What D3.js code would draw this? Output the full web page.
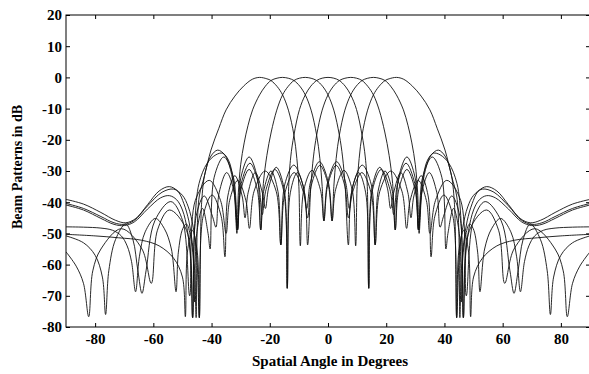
<!DOCTYPE html>
<html>
<head>
<meta charset="utf-8">
<script src="https://cdn.jsdelivr.net/npm/d3@7"></script>
<style>
  body { margin: 0; background: #fff; }
  text { font-family: "Liberation Serif", "Times New Roman", serif; font-weight: bold; fill: #000; }
</style>
</head>
<body>
<div id="chart"></div>
<script>
// tick labels
const xTicks = [-80, -60, -40, -20, 0, 20, 40, 60, 80];
const yTicks = [20, 10, 0, -10, -20, -30, -40, -50, -60, -70, -80];

// beam patterns, [angle in degrees, level in dB]
const beamM3 = [[-90,-39.1],[-84,-40.6],[-78,-43.3],[-73,-45.8],[-69.5,-46.6],[-66,-45.2],[-62,-40.8],[-58,-36.4],[-54.5,-35.0],[-51.5,-36.6],[-49.5,-40.5],[-47.8,-46],[-46.6,-53],[-45.8,-62],[-45.3,-77],
  [-44.9,-48],[-44.2,-38],[-42.5,-31.8],[-40.2,-23.3],[-37.5,-16.3],[-35,-10.4],[-32,-6.0],[-29,-2.8],[-26,-0.6],[-23.5,0],[-21,-0.45],[-19.6,-1.0],[-17.5,-2.9],[-15.6,-5.6],[-13.6,-10.5],[-11.7,-18.5],[-10.7,-26],[-10,-35],[-9.5,-54],
  [-8.3,-36],[-5.5,-29.8],[-2.6,-36],[-1.4,-46],[-0.1,-34.5],[2.8,-28.2],[5.7,-34.5],[7.0,-45],
  [8.4,-37],[11.6,-30.5],[14.8,-37],[16.2,-53.7],[17.2,-36.5],[19.6,-30],[22.1,-36.5],[23.1,-48.9],
  [24.3,-36],[27.1,-29.5],[29.9,-36],[31.1,-48.9],[32.2,-37],[34.8,-30.5],[37.4,-37],[38.5,-48],
  [39.7,-44.5],[42.5,-38],[45.3,-44.5],[46.5,-77],[48.6,-49],[54.5,-42.5],[58.6,-49],[60.7,-66],
  [63.9,-55],[71,-48.5],[78,-55],[80.8,-62],[82.2,-76.7],[84,-66],[86.5,-60.5],[90,-55.9]];

const beamM2 = [[-90,-40.4],[-84,-42],[-78,-44.6],[-73.5,-46.6],[-70,-47.1],[-66.5,-45.8],[-62,-41.2],[-57,-36.8],[-53,-35.8],[-50,-37.8],[-48,-41.5],[-46.3,-48],[-45.1,-57],[-44.2,-77],
  [-43.4,-40],[-42.2,-30.5],[-40.2,-25.2],[-37.9,-23.3],[-35.5,-24.8],[-33.5,-29.5],[-32.2,-37],[-31.3,-50],
  [-30.8,-37],[-30,-28],[-28.8,-21],[-27.5,-15.5],[-25.9,-10.4],[-23.5,-5.6],[-21.5,-2.8],[-19.6,-1.0],[-17.5,-0.25],[-15.6,0],[-13.5,-0.3],[-11.7,-1.0],[-9.7,-2.8],[-7.8,-5.6],[-5.8,-10.5],[-3.9,-18.5],[-2.8,-26],[-2.0,-35],[-1.4,-46],
  [-0.1,-33.5],[2.95,-27],[6.0,-33.5],[7.3,-42],[8.6,-34.5],[11.75,-28.1],[14.9,-34.5],[16.2,-53.7],
  [17.8,-36.5],[21.6,-30],[25.4,-36.5],[27,-48.4],[28.2,-39.5],[31,-33],[33.8,-39.5],[35,-50],
  [36.9,-39.5],[40.8,-33],[45.6,-39.5],[47.5,-70],[49.9,-46],[54,-39.8],[59.5,-46],[62.5,-62],[63.9,-69.2],[65.3,-62],
  [67,-52],[69.5,-47],[73,-52],[75.3,-62],[76.4,-76],[77.5,-64],[80,-57],[84,-53],[90,-50.8]];

const beamM1 = [[-90,-40.9],[-84,-42.5],[-78,-45.2],[-73.5,-47.1],[-70,-47.5],[-66.5,-46.3],[-62,-42.2],[-57.5,-38.6],[-54.5,-37.9],[-52,-39.2],[-50,-42.5],[-48.3,-49],[-47.2,-58],[-46.5,-77],
  [-45.7,-46],[-44.3,-34],[-41.5,-27.5],[-38.5,-24.8],[-36.2,-24.3],[-34.2,-26.5],[-32.5,-33],[-31.1,-48.9],
  [-29.9,-32],[-27.1,-25.5],[-24.3,-32],[-23.1,-48.9],
  [-22.2,-34],[-21,-25],[-19.5,-17.5],[-17.6,-10.5],[-15.6,-5.6],[-13.7,-2.9],[-11.7,-1.0],[-9.8,-0.25],[-7.8,0],[-5.8,-0.28],[-3.9,-1.0],[-1.9,-2.8],[0,-5.6],[2,-10.5],[3.9,-18.5],[5,-25.5],[5.9,-35],[7.0,-53.7],
  [8.05,-37],[10.5,-30.5],[12.95,-37],[14,-67.6],[15.1,-35.5],[17.8,-28.8],[20.4,-35.5],[21.5,-42],
  [22.55,-37],[25,-30.5],[27.45,-37],[28.5,-45],[29.5,-38],[32,-31.5],[34.4,-38],[35.4,-57.5],
  [36.7,-44.5],[39.8,-37.7],[42.9,-44.5],[44.2,-77],[44.9,-56],[46.6,-49],[48.3,-56],[49,-76.7],
  [50,-64],[53,-58],[58,-54],[64,-52.2],[72,-51.4],[80,-50.8],[90,-50.3]];

const beam0 = [[-90,-47.9],[-84,-48],[-78,-48.3],[-74,-49],[-71,-50.8],[-69,-54],[-67.5,-59],[-66.1,-68.7],[-64.8,-57.5],[-62.8,-49.5],[-59.3,-45.2],[-56.2,-48.5],[-53.8,-55],[-52.2,-68.7],[-51.4,-56],[-49.9,-48.5],[-48.6,-47],[-47.2,-51],[-46.3,-58],[-45.8,-72],
  [-45.1,-50],[-43.1,-42],[-41.2,-50],[-40.5,-55],[-39.1,-32],[-35.8,-25.5],[-32.5,-32],[-31.1,-48.9],
  [-29.8,-34],[-26.8,-27.5],[-23.9,-34],[-22.6,-44],[-21.3,-36],[-18.3,-29.5],[-15.3,-36],[-14,-67.6],
  [-13.5,-35],[-12.8,-25.5],[-11.7,-18.5],[-9.8,-10.3],[-7.8,-5.6],[-5.9,-2.8],[-3.9,-1.0],[-2,-0.25],[0,0],
  [2,-0.25],[3.9,-1.0],[5.9,-2.8],[7.8,-5.6],[9.8,-10.3],[11.7,-18.5],[12.8,-25.5],[13.5,-35],[14,-67.6],
  [15.3,-36],[18.3,-29.5],[21.3,-36],[22.6,-44],[23.9,-34],[26.8,-27.5],[29.8,-34],[31.1,-48.9],
  [32.5,-32],[35.8,-25.5],[39.1,-32],[40.5,-55],[41.2,-50],[43.1,-42],[45.1,-50],[45.8,-72],
  [46.3,-58],[47.2,-51],[48.6,-47],[49.9,-48.5],[51.4,-56],[52.2,-68.7],[53.8,-55],[56.2,-48.5],[59.3,-45.2],[62.8,-49.5],[64.8,-57.5],[66.1,-68.7],[67.5,-59],[69,-54],[71,-50.8],[74,-49],[78,-48.3],[84,-48],[90,-47.9]];

const beamP1 = [[-90,-50.3],[-80,-50.8],[-72,-51.4],[-64,-52.2],[-58,-54],[-53,-58],[-50,-64],[-49,-76.7],
  [-48.3,-56],[-46.6,-49],[-44.9,-56],[-44.2,-77],[-42.9,-44.5],[-39.8,-37.7],[-36.7,-44.5],[-35.4,-57.5],
  [-34.4,-38],[-32,-31.5],[-29.5,-38],[-28.5,-45],[-27.45,-37],[-25,-30.5],[-22.55,-37],[-21.5,-42],
  [-20.4,-35.5],[-17.8,-28.8],[-15.1,-35.5],[-14,-67.6],[-12.95,-37],[-10.5,-30.5],[-8.05,-37],[-7.0,-53.7],
  [-5.9,-35],[-5,-25.5],[-3.9,-18.5],[-2,-10.5],[0,-5.6],[1.9,-2.8],[3.9,-1.0],[5.8,-0.28],[7.8,0],[9.8,-0.25],[11.7,-1.0],[13.7,-2.9],[15.6,-5.6],[17.6,-10.5],[19.5,-17.5],[21,-25],[22.2,-34],
  [23.1,-48.9],[24.3,-32],[27.1,-25.5],[29.9,-32],[31.1,-48.9],[32.5,-33],[34.2,-26.5],[36.2,-24.3],[38.5,-24.8],[41.5,-27.5],[44.3,-34],[45.7,-46],
  [46.5,-77],[47.2,-58],[48.3,-49],[50,-42.5],[52,-39.2],[54.5,-37.9],[57.5,-38.6],[62,-42.2],[66.5,-46.3],[70,-47.5],[73.5,-47.1],[78,-45.2],[84,-42.5],[90,-40.9]];

const beamP2 = [[-90,-50.8],[-84,-53],[-80,-57],[-77.5,-64],[-76.4,-76],[-75.3,-62],[-73,-52],[-69.5,-47],[-67,-52],
  [-65.3,-62],[-63.9,-69.2],[-62.5,-62],[-59.5,-46],[-54,-39.8],[-49.9,-46],[-47.5,-70],[-45.6,-39.5],[-40.8,-33],[-36.9,-39.5],
  [-35,-50],[-33.8,-39.5],[-31,-33],[-28.2,-39.5],[-27,-48.4],[-25.4,-36.5],[-21.6,-30],[-17.8,-36.5],
  [-16.2,-53.7],[-14.9,-34.5],[-11.75,-28.1],[-8.6,-34.5],[-7.3,-42],[-6.0,-33.5],[-2.95,-27],[0.1,-33.5],
  [1.4,-46],[2.0,-35],[2.8,-26],[3.9,-18.5],[5.8,-10.5],[7.8,-5.6],[9.7,-2.8],[11.7,-1.0],[13.5,-0.3],[15.6,0],[17.5,-0.25],[19.6,-1.0],[21.5,-2.8],[23.5,-5.6],[25.9,-10.4],[27.5,-15.5],[28.8,-21],[30,-28],[30.8,-37],
  [31.3,-50],[32.2,-37],[33.5,-29.5],[35.5,-24.8],[37.9,-23.3],[40.2,-25.2],[42.2,-30.5],[43.4,-40],
  [44.2,-77],[45.1,-57],[46.3,-48],[48,-41.5],[50,-37.8],[53,-35.8],[57,-36.8],[62,-41.2],[66.5,-45.8],[70,-47.1],[73.5,-46.6],[78,-44.6],[84,-42],[90,-40.4]];

const beamP3 = [[-90,-55.9],[-86.5,-60.5],[-84,-66],[-82.2,-76.7],[-80.8,-62],[-78,-55],[-71,-48.5],[-63.9,-55],
  [-60.7,-66],[-58.6,-49],[-54.5,-42.5],[-48.6,-49],[-46.5,-77],[-45.3,-44.5],[-42.5,-38],[-39.7,-44.5],
  [-38.5,-48],[-37.4,-37],[-34.8,-30.5],[-32.2,-37],[-31.1,-48.9],[-29.9,-36],[-27.1,-29.5],[-24.3,-36],
  [-23.1,-48.9],[-22.1,-36.5],[-19.6,-30],[-17.2,-36.5],[-16.2,-53.7],[-14.8,-37],[-11.6,-30.5],[-8.4,-37],
  [-7.0,-45],[-5.7,-34.5],[-2.8,-28.2],[0.1,-34.5],[1.4,-46],[2.6,-36],[5.5,-29.8],[8.3,-36],
  [9.5,-54],[10,-35],[10.7,-26],[11.7,-18.5],[13.6,-10.5],[15.6,-5.6],[17.5,-2.9],[19.6,-1.0],[21,-0.45],[23.5,0],[26,-0.6],[29,-2.8],[32,-6.0],[35,-10.4],[37.5,-16.3],[40.2,-23.3],[42.5,-31.8],[44.2,-38],[44.9,-48],
  [45.3,-77],[45.8,-62],[46.6,-53],[47.8,-46],[49.5,-40.5],[51.5,-36.6],[54.5,-35.0],[58,-36.4],[62,-40.8],[66,-45.2],[69.5,-46.6],[73,-45.8],[78,-43.3],[84,-40.6],[90,-39.1]];

const beams = [beamM3, beamM2, beamM1, beam0, beamP1, beamP2, beamP3];

const width = 589, height = 374;
const margin = { top: 15, right: -1, bottom: 47, left: 66 };
const plotW = width - margin.left - margin.right;
const plotH = height - margin.top - margin.bottom;

const svg = d3.select('#chart')
  .append('svg')
  .attr('width', width)
  .attr('height', height)
  .style('background', '#fff');

const x = d3.scaleLinear()
  .domain([-90, 90])
  .range([margin.left, margin.left + plotW]);

const y = d3.scaleLinear()
  .domain([-80, 20])
  .range([margin.top + plotH, margin.top]);

svg.append('clipPath')
  .attr('id', 'plot-clip')
  .append('rect')
  .attr('x', margin.left)
  .attr('y', margin.top)
  .attr('width', plotW)
  .attr('height', plotH);

const line = d3.line()
  .x(d => x(d[0]))
  .y(d => y(d[1]))
  .curve(d3.curveCatmullRom.alpha(0.5));

svg.append('g')
  .attr('clip-path', 'url(#plot-clip)')
  .selectAll('path')
  .data(beams)
  .enter().append('path')
  .attr('d', line)
  .attr('fill', 'none')
  .attr('stroke', '#111')
  .attr('stroke-width', 0.9);

// axes, ticks pointing inward on all four sides
const fmt = d => String(d);

svg.append('g')
  .attr('class', 'x-axis')
  .attr('transform', 'translate(0,' + (margin.top + plotH) + ')')
  .call(d3.axisBottom(x).tickValues(xTicks).tickSizeInner(-4).tickSizeOuter(0).tickPadding(6).tickFormat(fmt));

svg.append('g')
  .attr('transform', 'translate(0,' + margin.top + ')')
  .call(d3.axisTop(x).tickValues(xTicks).tickSizeInner(-4).tickSizeOuter(0).tickFormat(''));

svg.append('g')
  .attr('class', 'y-axis')
  .attr('transform', 'translate(' + margin.left + ',0)')
  .call(d3.axisLeft(y).tickValues(yTicks).tickSizeInner(-4).tickSizeOuter(0).tickPadding(4).tickFormat(fmt));

svg.append('g')
  .attr('transform', 'translate(' + (margin.left + plotW) + ',0)')
  .call(d3.axisRight(y).tickValues(yTicks).tickSizeInner(-4).tickSizeOuter(0).tickFormat(''));

svg.selectAll('.domain').remove();
svg.selectAll('.tick line').attr('stroke', '#000');
svg.selectAll('.tick text').style('font-size', '15px');

svg.append('rect')
  .attr('x', margin.left)
  .attr('y', margin.top)
  .attr('width', plotW)
  .attr('height', plotH)
  .attr('fill', 'none')
  .attr('stroke', '#000')
  .attr('stroke-width', 1);

svg.append('text')
  .attr('x', 330)
  .attr('y', 366)
  .style('text-anchor', 'middle')
  .style('font-size', '15px')
  .text('Spatial Angle in Degrees');

svg.append('text')
  .attr('transform', 'rotate(-90)')
  .attr('x', -167)
  .attr('y', 22)
  .style('text-anchor', 'middle')
  .style('font-size', '14px')
  .text('Beam Patterns in dB');
</script>
</body>
</html>
